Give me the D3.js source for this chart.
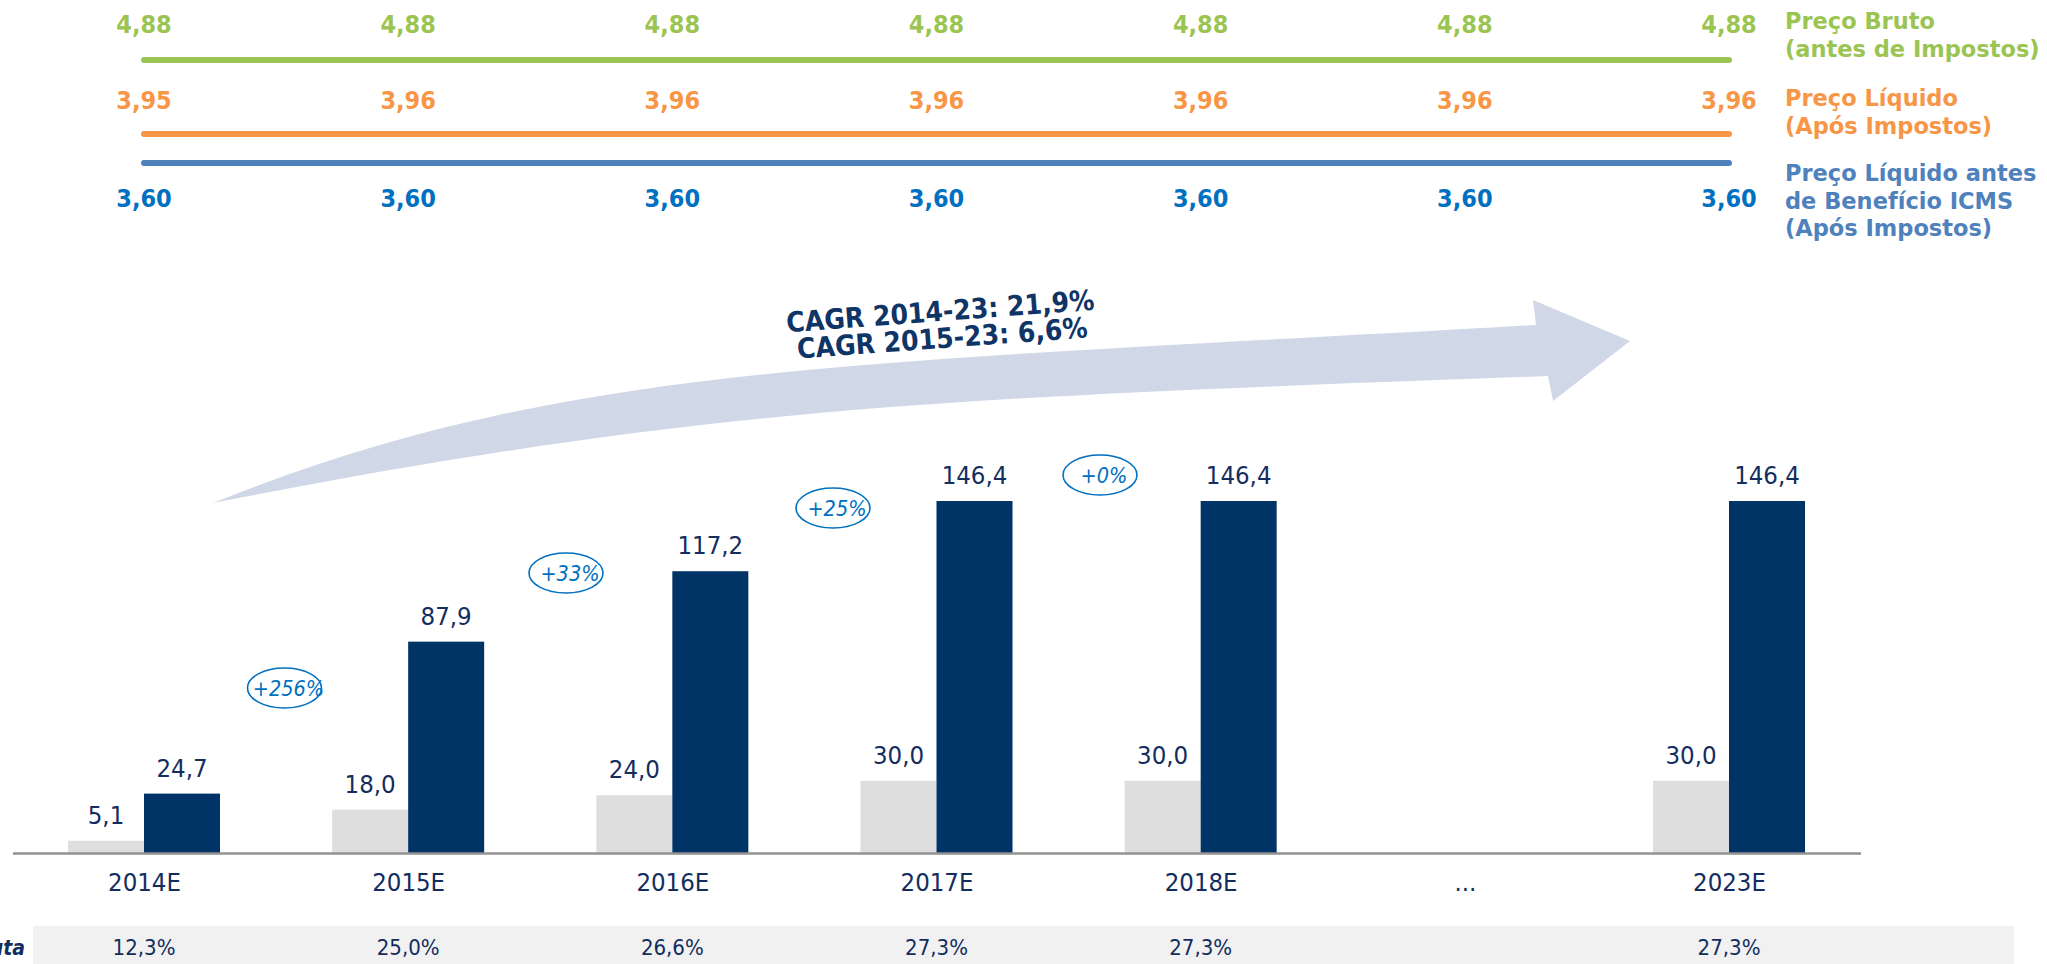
<!DOCTYPE html>
<html><head><meta charset="utf-8">
<script src="https://cdn.jsdelivr.net/npm/d3@7"></script>
<style>
html,body{margin:0;padding:0;background:#fff;overflow:hidden}
svg{display:block}
text{font-family:"DejaVu Sans",Verdana,sans-serif}
</style>
</head><body>
<svg id="c" width="2047" height="964"></svg>
<script>
// ---------- DATA ----------
const categories = ["2014E","2015E","2016E","2017E","2018E","...","2023E"];
const lightValues = [5.1, 18.0, 24.0, 30.0, 30.0, null, 30.0];
const darkValues  = [24.7, 87.9, 117.2, 146.4, 146.4, null, 146.4];
const rowLabel = "Margem Bruta";
const rowValues = ["12,3%","25,0%","26,6%","27,3%","27,3%","","27,3%"];
const precoBruto        = [4.88, 4.88, 4.88, 4.88, 4.88, 4.88, 4.88];
const precoLiquido      = [3.95, 3.96, 3.96, 3.96, 3.96, 3.96, 3.96];
const precoLiquidoAntes = [3.60, 3.60, 3.60, 3.60, 3.60, 3.60, 3.60];
const legendBruto   = ["Preço Bruto","(antes de Impostos)"];
const legendLiquido = ["Preço Líquido","(Após Impostos)"];
const legendAntes   = ["Preço Líquido antes","de Benefício ICMS","(Após Impostos)"];
const growthLabels = ["+256%","+33%","+25%","+0%"];
const cagrLines = ["CAGR 2014-23: 21,9%","CAGR 2015-23: 6,6%"];

// ---------- LAYOUT ----------
const W = 2047, H = 964;
const navy = "#132D5E", barDark = "#003366", barLight = "#DEDEDE";
const svg = d3.select("#c");

const x = d3.scalePoint().domain(categories).range([144, 1729]);
const y = d3.scaleLinear().domain([0, 146.4]).range([853, 501]);
const sub = d3.scaleBand().domain(["light","dark"]).range([-76, 76]);
const fmt = v => d3.format(".2f")(v).replace(".", ",");

// narrow the glyphs a little (reference font is taller for the same width)
function condense(sel, k) {
  sel.each(function() {
    const l = this.getComputedTextLength();
    if (l > 0) {
      this.setAttribute("textLength", (l * k).toFixed(2));
      this.setAttribute("lengthAdjust", "spacingAndGlyphs");
    }
  });
}

// ---------- PRICE LINES ----------
const priceSeries = [
  {vals: precoBruto, color: "#9BC553", lineY: 60, labelY: 33, legend: legendBruto, legendY: 29, legendColor: "#9BC553"},
  {vals: precoLiquido, color: "#F79646", lineY: 134, labelY: 109, legend: legendLiquido, legendY: 106, legendColor: "#F79646"},
  {vals: precoLiquidoAntes, color: "#4F81BD", lineY: 163, labelY: 207, legend: legendAntes, legendY: 181, legendColor: "#4F81BD", labelColor: "#0070C0"}
];
priceSeries.forEach(s => {
  const g = svg.append("g");
  const line = d3.line().x((d,i) => x(categories[i])).y(() => s.lineY);
  g.append("path").attr("d", line(s.vals)).attr("fill","none")
    .attr("stroke", s.color).attr("stroke-width", 6).attr("stroke-linecap","round");
  g.selectAll("text.v").data(s.vals).join("text").attr("class","v")
    .attr("x", (d,i) => x(categories[i])).attr("y", s.labelY)
    .attr("text-anchor","middle").attr("font-weight","bold").attr("font-size", 25)
    .attr("fill", s.labelColor || s.color).text(d => fmt(d))
    .call(condense, 0.9);
  g.selectAll("text.l").data(s.legend).join("text").attr("class","l")
    .attr("x", 1785).attr("y", (d,i) => s.legendY + i*27.5)
    .attr("font-weight","bold").attr("font-size", 22.5)
    .attr("fill", s.legendColor).text(d => d);
});

// ---------- ARROW (decorative swoosh) ----------
const arrowPath = d3.path();
arrowPath.moveTo(213, 503);
arrowPath.bezierCurveTo(563, 363, 836, 365, 1536, 325);
arrowPath.lineTo(1533, 300);
arrowPath.lineTo(1630, 341);
arrowPath.lineTo(1553, 401);
arrowPath.lineTo(1548, 376);
arrowPath.bezierCurveTo(948, 398, 713, 405, 213, 503);
arrowPath.closePath();
svg.append("path").attr("d", arrowPath.toString()).attr("fill", "#D0D8E7");

// CAGR text
const cg = svg.append("g").attr("transform", "translate(941,321) rotate(-4.2)");
cg.selectAll("text").data(cagrLines).join("text")
  .attr("x", 0).attr("y", (d,i) => i*27)
  .attr("text-anchor","middle").attr("font-weight","bold").attr("font-size", 28)
  .attr("fill", "#0F3466").text(d => d)
  .call(condense, 0.9);

// ---------- BARS ----------
const groups = svg.append("g");
const barData = [];
categories.forEach((c,i) => {
  if (lightValues[i] != null) barData.push({c, k:"light", v:lightValues[i]});
  if (darkValues[i] != null) barData.push({c, k:"dark", v:darkValues[i]});
});
groups.selectAll("rect").data(barData).join("rect")
  .attr("x", d => x(d.c) + sub(d.k)).attr("width", sub.bandwidth())
  .attr("y", d => y(d.v)).attr("height", d => y(0) - y(d.v))
  .attr("fill", d => d.k === "dark" ? barDark : barLight);
groups.selectAll("text").data(barData).join("text")
  .attr("x", d => x(d.c) + sub(d.k) + sub.bandwidth()/2)
  .attr("y", d => y(d.v) - 17)
  .attr("text-anchor","middle").attr("font-size", 25.5).attr("fill", navy)
  .text(d => d.v.toFixed(1).replace(".", ","))
  .call(condense, 0.9);

// baseline
svg.append("line").attr("x1", 13).attr("x2", 1861).attr("y1", 853.5).attr("y2", 853.5)
  .attr("stroke", "#929292").attr("stroke-width", 2.5);

// category axis
const axis = svg.append("g").attr("transform", "translate(0,853)")
  .call(d3.axisBottom(x).tickSize(0).tickPadding(20));
axis.select(".domain").remove();
axis.selectAll("text").attr("font-size", 25.5).attr("fill", navy)
  .attr("font-family", '"DejaVu Sans",Verdana,sans-serif')
  .call(condense, 0.9);

// growth ellipses
const ellipsePos = [[284.5,688],[566,573],[833,508],[1100,475]];
const eg = svg.append("g");
eg.selectAll("ellipse").data(growthLabels).join("ellipse")
  .attr("cx", (d,i) => ellipsePos[i][0]).attr("cy", (d,i) => ellipsePos[i][1])
  .attr("rx", 37).attr("ry", 20).attr("fill","none")
  .attr("stroke", "#0070C0").attr("stroke-width", 1.6);
eg.selectAll("text").data(growthLabels).join("text")
  .attr("x", (d,i) => ellipsePos[i][0] + 4).attr("y", (d,i) => ellipsePos[i][1] + 8)
  .attr("text-anchor","middle").attr("font-style","italic").attr("font-size", 21.5)
  .attr("fill", "#0070C0").text(d => d)
  .call(condense, 0.9);

// ---------- BOTTOM ROW ----------
svg.append("rect").attr("x", 33).attr("y", 926).attr("width", 2014 - 33).attr("height", H - 926)
  .attr("fill", "#F1F1F1");
svg.append("text").attr("x", 25).attr("y", 955).attr("text-anchor","end")
  .attr("font-weight","bold").attr("font-style","italic").attr("font-size", 21)
  .attr("fill", navy).text(rowLabel)
  .call(condense, 0.9);
svg.append("g").selectAll("text").data(rowValues).join("text")
  .attr("x", (d,i) => x(categories[i])).attr("y", 955)
  .attr("text-anchor","middle").attr("font-size", 22).attr("fill", navy).text(d => d)
  .call(condense, 0.9);
</script>
</body></html>
